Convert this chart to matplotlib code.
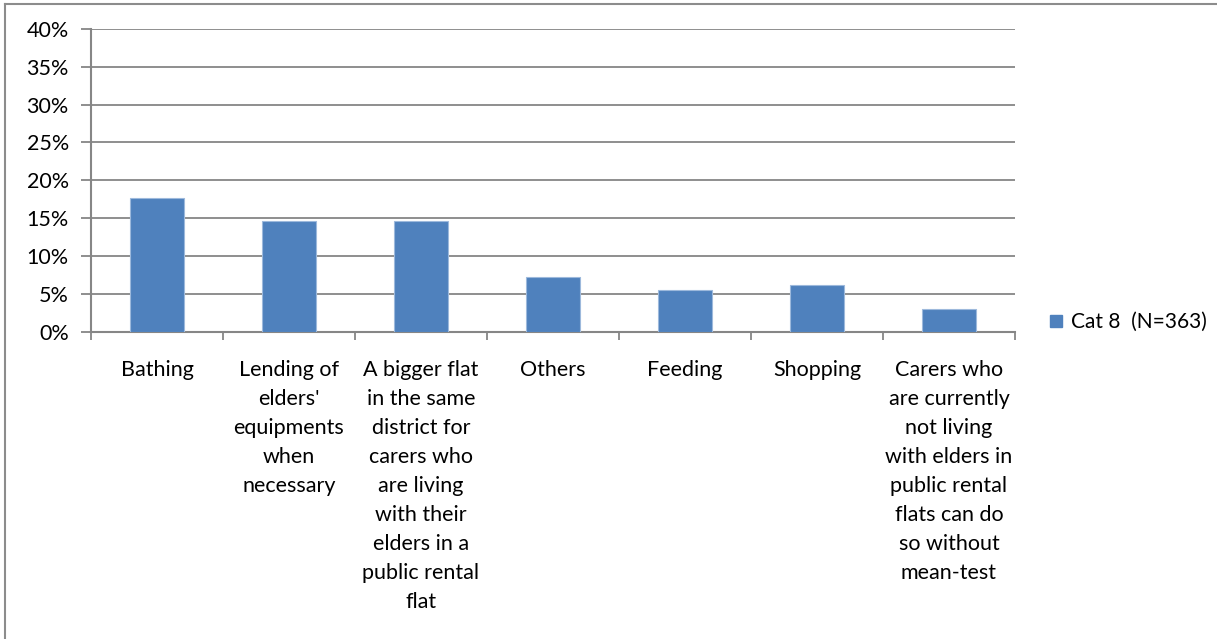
import matplotlib
matplotlib.use("Agg")
import matplotlib.pyplot as plt
import matplotlib.transforms as mtransforms
from matplotlib.lines import Line2D
import numpy as np

# Survey result: share of carers choosing each support item
categories = [
    "Bathing",
    "Lending of\nelders'\nequipments\nwhen\nnecessary",
    "A bigger flat\nin the same\ndistrict for\ncarers who\nare living\nwith their\nelders in a\npublic rental\nflat",
    "Others",
    "Feeding",
    "Shopping",
    "Carers who\nare currently\nnot living\nwith elders in\npublic rental\nflats can do\nso without\nmean-test",
]
values = [0.176, 0.146, 0.146, 0.072, 0.055, 0.062, 0.030]
series_name = "Cat 8  (N=363)"
y_ticks = [0.00, 0.05, 0.10, 0.15, 0.20, 0.25, 0.30, 0.35, 0.40]

plt.rcParams["font.family"] = ["Lato", "DejaVu Sans"]

W, H = 1217, 639
DPI = 100
fig = plt.figure(figsize=(W / DPI, H / DPI), dpi=DPI)
fig.patch.set_facecolor("white")

ax = fig.add_axes([91 / W, 1 - 331.5 / H, (1015 - 91) / W, (331.5 - 29) / H])

grey = "#868686"
bar_color = "#4F81BD"
x = np.arange(len(categories))
ax.bar(x, values, width=0.41, color=bar_color, edgecolor="#9DB9DC",
       linewidth=0.8, zorder=3, label=series_name)

ax.set_xlim(-0.5, len(categories) - 0.5)
ax.set_ylim(0, 0.40)
ax.set_yticks(y_ticks)
ax.set_yticklabels([f"{v:.0%}" for v in y_ticks])
ax.yaxis.grid(True, color=grey, linewidth=1.3, zorder=0)

for side in ("top", "right"):
    ax.spines[side].set_visible(False)
for side in ("left", "bottom"):
    ax.spines[side].set_color(grey)
    ax.spines[side].set_linewidth(1.5)

# Tick marks on category boundaries; wrapped category names set line by line
ax.set_xticks([])
ax.set_xticks(np.arange(-0.5, len(categories)), minor=True)
ax.tick_params(axis="x", which="minor", length=6, width=1.3, color=grey)
ax.tick_params(axis="y", length=7, width=1.3, color=grey, labelsize=15.5, pad=9)

first_baseline_px = 44.5   # below the x axis
line_step_px = 29.0
for xi, name in zip(x, categories):
    for i, line in enumerate(name.split("\n")):
        dy = -(first_baseline_px + i * line_step_px) / DPI
        tr = ax.get_xaxis_transform() + mtransforms.ScaledTranslation(
            0, dy, fig.dpi_scale_trans)
        ax.text(xi, 0, line, transform=tr, ha="center", va="baseline",
                fontsize=15.5, color="black")

handle = Line2D([], [], marker="s", linestyle="none", markersize=9,
                markerfacecolor=bar_color, markeredgecolor=bar_color)
fig.legend([handle], [series_name], loc="center left",
           bbox_to_anchor=(1047 / W, 1 - 322 / H), frameon=False,
           fontsize=15, handlelength=0.9, handletextpad=0.25, borderpad=0,
           borderaxespad=0)

# Chart-area frame (right and bottom edges fall outside the canvas)
fig.add_artist(Line2D([5 / W, 5 / W], [0, 1 - 4 / H], transform=fig.transFigure,
                      color="#8C8C8C", linewidth=1.5))
fig.add_artist(Line2D([5 / W, 1], [1 - 4 / H, 1 - 4 / H], transform=fig.transFigure,
                      color="#8C8C8C", linewidth=1.5))

fig.savefig("out.png", dpi=DPI, facecolor="white")
